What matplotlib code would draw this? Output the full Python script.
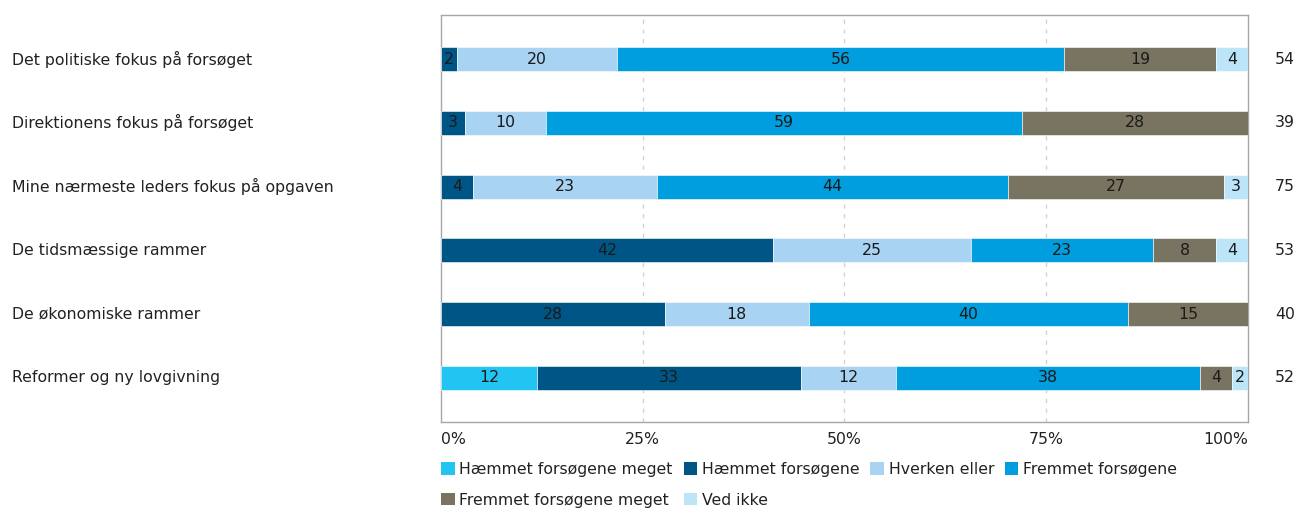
import matplotlib.pyplot as plt
import matplotlib.transforms as mtransforms
from matplotlib.patches import Patch
import numpy as np

categories = [
    "Det politiske fokus på forsøget",
    "Direktionens fokus på forsøget",
    "Mine nærmeste leders fokus på opgaven",
    "De tidsmæssige rammer",
    "De økonomiske rammer",
    "Reformer og ny lovgivning",
]
series = [
    "Hæmmet forsøgene meget",
    "Hæmmet forsøgene",
    "Hverken eller",
    "Fremmet forsøgene",
    "Fremmet forsøgene meget",
    "Ved ikke",
]
# one list per series, in the order of categories (0 = no segment)
haemmet_meget = [0, 0, 0, 0, 0, 12]
haemmet = [2, 3, 4, 42, 28, 33]
hverken = [20, 10, 23, 25, 18, 12]
fremmet = [56, 59, 44, 23, 40, 38]
fremmet_meget = [19, 28, 27, 8, 15, 4]
ved_ikke = [4, 0, 3, 4, 0, 2]
n_values = [54, 39, 75, 53, 40, 52]
tick_labels = ["0%", "25%", "50%", "75%", "100%"]

colors = ["#22c4f1", "#005587", "#a8d3f3", "#009ddf", "#787461", "#bde5f9"]
FS = 11.3

values = np.array([haemmet_meget, haemmet, hverken, fremmet, fremmet_meget, ved_ikke], dtype=float)
shares = values / values.sum(axis=0) * 100  # displayed numbers are rounded

fig = plt.figure(figsize=(13, 5.09), dpi=100)
ax = fig.add_axes([0.3392, 0.171, 0.6208, 0.7995])

y = np.arange(len(categories))
left = np.zeros(len(categories))
for i, name in enumerate(series):
    ax.barh(y, shares[i], left=left, height=0.375, color=colors[i],
            edgecolor="white", linewidth=0.4, label=name, zorder=3)
    for j in range(len(categories)):
        if values[i, j] > 0:
            ax.text(left[j] + shares[i, j] / 2, y[j], f"{int(values[i, j])}",
                    ha="center", va="center", fontsize=FS, color="#1a1a1a", zorder=4)
    left += shares[i]

ax.set_xlim(0, 100)
ax.set_ylim(len(categories) - 0.31, -0.69)
ax.set_yticks([])
ax.set_xticks([0, 25, 50, 75, 100])
ax.set_xticklabels(tick_labels, fontsize=FS, color="#222222")
labs = ax.get_xticklabels()
labs[0].set_horizontalalignment("left")
labs[-1].set_horizontalalignment("right")
ax.tick_params(axis="x", length=0, pad=7)
for xv in [25, 50, 75]:
    ax.axvline(xv, color="#d3d3d3", linestyle=(0, (3, 4)), linewidth=1, zorder=1)
for s in ax.spines.values():
    s.set_color("#a6a6a6")
    s.set_linewidth(1)

# category labels at the left edge of the figure
trans_left = mtransforms.blended_transform_factory(fig.transFigure, ax.transData)
for j, cat in enumerate(categories):
    ax.text(0.0092, y[j], cat, transform=trans_left, ha="left", va="center",
            fontsize=FS, color="#222222")

# N on the right
trans_right = mtransforms.blended_transform_factory(ax.transAxes, ax.transData)
for j, n in enumerate(n_values):
    ax.text(1.0458, y[j], str(n), transform=trans_right, ha="center", va="center",
            fontsize=FS, color="#222222")

# legend filled row by row (matplotlib fills columns first)
order = [0, 4, 1, 5, 2, 3]
handles = [Patch(facecolor=colors[k], edgecolor="none") for k in order]
fig.legend(handles, [series[k] for k in order], loc="upper left",
           bbox_to_anchor=(0.3335, 0.108), ncol=4, frameon=False, fontsize=FS,
           handlelength=0.85, handleheight=0.85, handletextpad=0.3,
           columnspacing=0.7, labelspacing=1.0, borderpad=0, labelcolor="#222222")

fig.savefig("out.png", dpi=100)
